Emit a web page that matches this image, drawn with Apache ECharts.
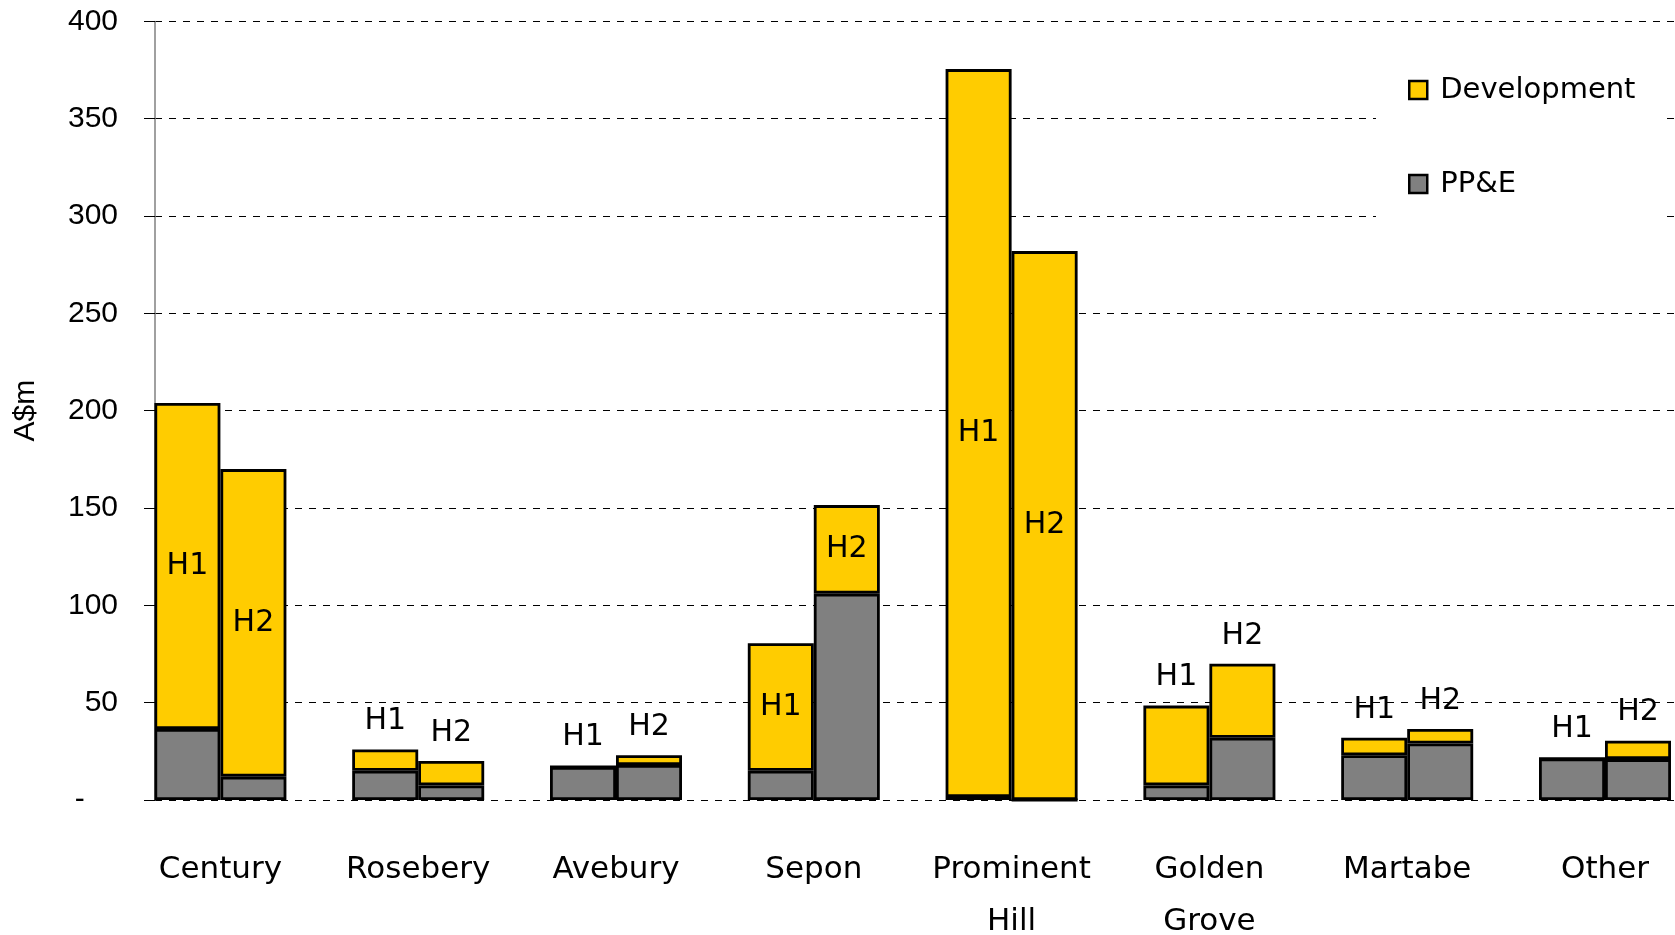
<!DOCTYPE html>
<html>
<head>
<meta charset="utf-8">
<title>Capex by operation</title>
<script src="https://cdn.jsdelivr.net/npm/echarts@6/dist/echarts.min.js"></script>
<style>
  html, body { margin: 0; padding: 0; background: #fff; }
  #chart { width: 1675px; height: 935px; }
</style>
</head>
<body>
<div id="chart"></div>
<script>
// operations along the x axis
var categories = ['Century', 'Rosebery', 'Avebury', 'Sepon', 'Prominent\nHill', 'Golden\nGrove', 'Martabe', 'Other'];

// A$m
var ppeH1 = [36.5, 15, 17, 15, 1.5, 7.5, 23, 21.3];
var devH1 = [167.5, 11, 0, 65.5, 374, 41, 9, 0];
var ppeH2 = [12, 7.5, 18, 106, 0, 32, 29, 21];
var devH2 = [158, 12.5, 5, 45.5, 282, 38, 7.5, 9.5];

var yMin = 0, yMax = 400, yStep = 50;

var YELLOW = '#FFCC00';
var GREY = '#808080';

var chart = echarts.init(document.getElementById('chart'));

// label sits inside the yellow part for the tall stacks, above otherwise
function devData(dev, ppe) {
  return dev.map(function (v, i) {
    var inside = (v + ppe[i]) >= 75;
    return {
      value: v,
      label: inside ? { position: 'inside' } : { position: 'top', distance: 13 }
    };
  });
}

function barSeries(name, stack, data, color, labelText) {
  var s = {
    name: name,
    type: 'bar',
    xAxisIndex: 0,
    yAxisIndex: 0,
    stack: stack,
    barWidth: 66,
    barGap: '0%',
    data: data,
    itemStyle: { color: color, borderColor: '#000', borderWidth: 2.8 },
    emphasis: { disabled: true },
    animation: false
  };
  if (labelText) {
    s.label = {
      show: true,
      formatter: labelText,
      fontFamily: 'DejaVu Sans',
      fontSize: 30,
      color: '#000'
    };
  }
  return s;
}

var option = {
  backgroundColor: '#fff',
  animation: false,
  grid: [
    // bars
    { left: 121.5, right: -28.9, top: 21.4, bottom: 135, outerBoundsMode: 'none', containLabel: false },
    // axis + dashed gridlines
    { left: 155, right: 0, top: 21.4, bottom: 135, outerBoundsMode: 'none', containLabel: false }
  ],
  legend: {
    orient: 'vertical',
    left: 1376,
    top: 35,
    data: ['Development', 'PP&E'],
    icon: 'rect',
    itemWidth: 18,
    itemHeight: 18,
    itemGap: 64,
    backgroundColor: '#fff',
    padding: [40, 30, 40, 32],
    itemStyle: { borderColor: '#000', borderWidth: 2.5 },
    textStyle: {
      fontFamily: 'DejaVu Sans',
      fontSize: 29,
      lineHeight: 30,
      color: '#000',
      padding: [0, 0, 0, 8]
    },
    selectedMode: false
  },
  xAxis: [
    {
      type: 'category',
      gridIndex: 0,
      data: categories,
      axisLine: { show: false },
      axisTick: { show: false },
      axisLabel: {
        interval: 0,
        margin: 44,
        fontFamily: 'DejaVu Sans',
        fontSize: 31,
        lineHeight: 52,
        color: '#000'
      }
    },
    {
      type: 'category',
      gridIndex: 1,
      data: categories,
      show: false
    }
  ],
  yAxis: [
    { type: 'value', gridIndex: 0, min: yMin, max: yMax, interval: yStep, show: false },
    {
      type: 'value',
      gridIndex: 1,
      min: yMin,
      max: yMax,
      interval: yStep,
      name: 'A$m',
      nameLocation: 'middle',
      nameGap: 114,
      nameTextStyle: { fontFamily: 'Liberation Sans', fontSize: 30, color: '#000' },
      axisLine: { show: true, lineStyle: { color: '#808080', width: 1.5 } },
      axisTick: { show: true, length: 11, lineStyle: { color: '#000', width: 1 } },
      axisLabel: {
        margin: 37,
        fontFamily: 'Liberation Sans',
        fontSize: 30,
        color: '#000',
        formatter: function (v) { return v === 0 ? '-    ' : String(v); }
      },
      splitLine: { show: true, lineStyle: { color: '#000', width: 1, type: [7, 7] } }
    }
  ],
  series: [
    barSeries('PP&E', 'h1', ppeH1, GREY),
    barSeries('Development', 'h1', devData(devH1, ppeH1), YELLOW, 'H1'),
    barSeries('PP&E', 'h2', ppeH2, GREY),
    barSeries('Development', 'h2', devData(devH2, ppeH2), YELLOW, 'H2')
  ]
};

chart.setOption(option);
</script>
</body>
</html>
